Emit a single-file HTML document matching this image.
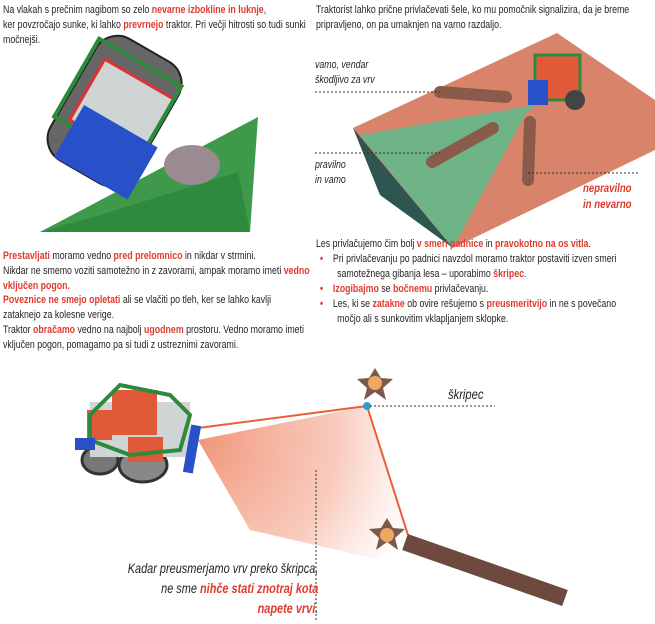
<!DOCTYPE html>
<html><head><meta charset="utf-8"><style>
body{margin:0;width:655px;height:624px;background:#fff;position:relative;overflow:hidden;font-family:"Liberation Sans Narrow","Liberation Sans",sans-serif;color:#231f20}
.t{position:absolute;font-size:11px;line-height:15px;white-space:nowrap;transform:scaleX(0.8);transform-origin:0 0}
.r{color:#e03a2e;font-weight:bold}
.i{font-style:italic}
svg{position:absolute;left:0;top:0}
</style></head><body>
<svg width="655" height="624" viewBox="0 0 655 624">
<defs>
<radialGradient id="cone" cx="200" cy="440" r="230" gradientUnits="userSpaceOnUse">
<stop offset="0" stop-color="#f08a6c" stop-opacity=".9"/><stop offset=".6" stop-color="#f4a890" stop-opacity=".6"/><stop offset="1" stop-color="#f8c8b8" stop-opacity="0"/></radialGradient>
</defs>
<!-- top left -->
<polygon points="40,232 258,117 250,232" fill="#3e9a4a"/>
<polygon points="100,215 238,172 250,232 40,232" fill="#2f8a3d"/>
<ellipse cx="192" cy="165" rx="28" ry="20" fill="#9a8a92"/>
<g transform="rotate(30 110 120)">
<rect x="62" y="40" width="95" height="140" rx="25" fill="#666" stroke="#222" stroke-width="2"/>
<rect x="75" y="70" width="80" height="70" fill="#cfd4d4" stroke="#d33" stroke-width="3"/>
<rect x="60" y="55" width="95" height="90" fill="none" stroke="#2c8a3a" stroke-width="4"/>
<rect x="80" y="120" width="85" height="60" fill="#2850c8"/>
</g>
<!-- top right -->
<polygon points="353,128 557,33 655,100 655,150 453,248" fill="#d9836a"/>
<polygon points="353,128 453,248 380,195" fill="#2f5550"/>
<polygon points="535,105 360,135 453,248 525,115" fill="#6fb487"/>
<g stroke="#8a5a4a" stroke-width="12" stroke-linecap="round"><line x1="440" y1="92" x2="506" y2="97"/><line x1="432" y1="162" x2="493" y2="128"/><line x1="530" y1="122" x2="528" y2="180"/></g>
<rect x="535" y="55" width="45" height="45" fill="#e05a3a" stroke="#2c8a3a" stroke-width="3"/>
<rect x="528" y="80" width="20" height="25" fill="#2850c8"/>
<circle cx="575" cy="100" r="10" fill="#444"/>
<g stroke="#333" stroke-dasharray="2,2" stroke-width="1"><line x1="315" y1="92" x2="440" y2="92"/><line x1="315" y1="153" x2="440" y2="153"/><line x1="528" y1="173" x2="640" y2="173"/></g>
<!-- bottom -->
<polygon points="198,440 367,406 408,535 380,560 250,530" fill="url(#cone)"/>
<polyline points="198,428 367,406 408,535" fill="none" stroke="#e8603a" stroke-width="2"/>
<line x1="405" y1="542" x2="565" y2="598" stroke="#6e4a3e" stroke-width="17"/>
<g fill="#7a5a4c"><polygon points="375,368 381,378 393,379 383,388 386,400 375,392 364,400 367,388 357,379 369,378"/><polygon points="387,518 393,528 405,529 395,538 398,550 387,542 376,550 379,538 369,529 381,528"/></g>
<circle cx="375" cy="383" r="7" fill="#f0a860"/><circle cx="387" cy="535" r="7" fill="#f0a860"/>
<circle cx="367" cy="406" r="4" fill="#2aa0d0"/>
<g stroke="#333" stroke-dasharray="2,2"><line x1="370" y1="406" x2="495" y2="406"/><line x1="316" y1="470" x2="316" y2="620"/></g>
<g>
<ellipse cx="100" cy="460" rx="18" ry="14" fill="#777" stroke="#333" stroke-width="3"/><ellipse cx="143" cy="465" rx="24" ry="17" fill="#888" stroke="#333" stroke-width="3"/>
<rect x="90" y="402" width="100" height="55" fill="#cfd4d4"/>
<rect x="112" y="390" width="45" height="45" fill="#e05a3a"/>
<rect x="87" y="410" width="25" height="30" fill="#e05a3a"/>
<rect x="128" y="437" width="35" height="25" fill="#e05a3a"/>
<polygon points="90,415 120,385 170,395 190,415 180,450 130,455 90,440" fill="none" stroke="#2c8a3a" stroke-width="4"/>
<rect x="187" y="425" width="10" height="48" fill="#2850c8" transform="rotate(10 192 449)"/>
<rect x="75" y="438" width="20" height="12" fill="#2850c8"/>
</g>
</svg>
<div class="t" style="left:3px;top:3px">Na vlakah s prečnim nagibom so zelo <span class="r">nevarne izbokline in luknje</span>,<br>ker povzročajo sunke, ki lahko <span class="r">prevrnejo</span> traktor. Pri večji hitrosti so tudi sunki<br>močnejši.</div>
<div class="t" style="left:316px;top:3px">Traktorist lahko prične privlačevati šele, ko mu pomočnik signalizira, da je breme<br>pripravljeno, on pa umaknjen na varno razdaljo.</div>
<div class="t i" style="left:315px;top:58px">vamo, vendar<br>škodljivo za vrv</div>
<div class="t i" style="left:315px;top:158px">pravilno<br>in vamo</div>
<div class="t i r" style="left:583px;top:180px;font-size:12px;line-height:16px">nepravilno<br>in nevarno</div>
<div class="t" style="left:3px;top:249px;line-height:14.8px">
<span class="r">Prestavljati</span> moramo vedno <span class="r">pred prelomnico</span> in nikdar v strmini.<br>
Nikdar ne smemo voziti samotežno in z zavorami, ampak moramo imeti <span class="r">vedno</span><br><span class="r">vključen pogon.</span><br>
<span class="r">Poveznice ne smejo opletati</span> ali se vlačiti po tleh, ker se lahko kavlji<br>zataknejo za kolesne verige.<br>
Traktor <span class="r">obračamo</span> vedno na najbolj <span class="r">ugodnem</span> prostoru. Vedno moramo imeti<br>vključen pogon, pomagamo pa si tudi z ustreznimi zavorami.</div>
<div class="t" style="left:316px;top:237px;line-height:15px">Les privlačujemo čim bolj <span class="r">v smeri padnice</span> in <span class="r">pravokotno na os vitla</span>.</div>
<div class="t" style="left:320px;top:252px;line-height:15px">
<span class="r">•</span>&nbsp;&nbsp;&nbsp;&nbsp;Pri privlačevanju po padnici navzdol moramo traktor postaviti izven smeri<br>&nbsp;&nbsp;&nbsp;&nbsp;&nbsp;&nbsp;&nbsp;samotežnega gibanja lesa – uporabimo <span class="r">škripec</span>.<br>
<span class="r">•</span>&nbsp;&nbsp;&nbsp;&nbsp;<span class="r">Izogibajmo</span> se <span class="r">bočnemu</span> privlačevanju.<br>
<span class="r">•</span>&nbsp;&nbsp;&nbsp;&nbsp;Les, ki se <span class="r">zatakne</span> ob ovire rešujemo s <span class="r">preusmeritvijo</span> in ne s povečano<br>&nbsp;&nbsp;&nbsp;&nbsp;&nbsp;&nbsp;&nbsp;močjo ali s sunkovitim vklapljanjem sklopke.</div>
<div class="t i" style="left:448px;top:387px;font-size:14px">škripec</div>
<div style="position:absolute;right:337px;top:558px;font-size:14px;line-height:20px;text-align:right;font-style:italic;white-space:nowrap;transform:scaleX(0.78);transform-origin:100% 0;font-family:'Liberation Sans Narrow','Liberation Sans',sans-serif">Kadar preusmerjamo vrv preko škripca,<br>ne sme <span class="r">nihče stati znotraj kota</span><br><span class="r">napete vrvi</span>.</div>
</body></html>
